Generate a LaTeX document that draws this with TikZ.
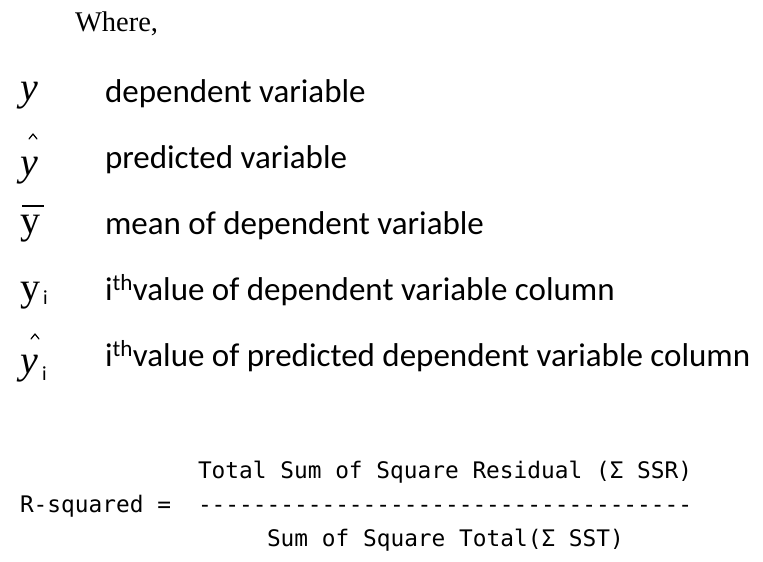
\documentclass[tikz,border=0pt]{standalone}
\usepackage{fontspec}
\setmainfont{Liberation Serif}
\newfontfamily\lblfont{Carlito}
\newfontfamily\codefont{DejaVu Sans Mono}
\begin{document}
\begin{tikzpicture}[x=1pt,y=-1pt,
  every node/.style={inner sep=0pt,outer sep=0pt,anchor=base west},
  sym/.style={font=\fontsize{40}{42}\selectfont},
  sub/.style={font=\lblfont\fontsize{20}{20}\selectfont},
  lbl/.style={font=\lblfont\fontsize{33}{35}\selectfont},
  code/.style={font=\codefont\fontsize{22.8}{24}\selectfont},
  hat/.style={line width=1.2pt,line cap=round,line join=round}]
\useasboundingbox[fill=white] (0,0) rectangle (763,562);
\node[font=\fontsize{28.5}{30}\selectfont] (where) at (75,31) {Where,};
% symbols
\node[sym] (s1) at (20,100) {\itshape y};
\node[sym] (s2) at (20,175) {\itshape y};
\draw[hat] (29,139) -- (33,134) -- (37,139);
\node[sym] (s3) at (20,233) {y};
\draw[line width=1.3pt] (22,206) -- (44,206);
\node[sym] (s4) at (20,300) {y};
\node[sub] (i4) at (43,304) {i};
\node[sym] (s5) at (20,373) {\itshape y};
\node[sub] (i5) at (42,380) {i};
\draw[hat] (31,339) -- (35,334) -- (39,339);
% labels
\node[lbl] (l1) at (105,102) {dependent variable};
\node[lbl] (l2) at (105,168) {predicted variable};
\node[lbl] (l3) at (105,234) {mean of dependent variable};
\node[lbl] (l4) at (105,300) {i\textsuperscript{th}value of dependent variable column};
\node[lbl] (l5) at (105,366) {i\textsuperscript{th}value of predicted dependent variable column};
% formula
\node[code] (num) at (198,478) {Total Sum of Square Residual (Σ SSR)};
\node[code] (rs) at (20,512) {R-squared =};
\node[code] (bar) at (198,512) {------------------------------------};
\node[code] (den) at (267,546) {Sum of Square Total(Σ SST)};
\end{tikzpicture}
\end{document}
